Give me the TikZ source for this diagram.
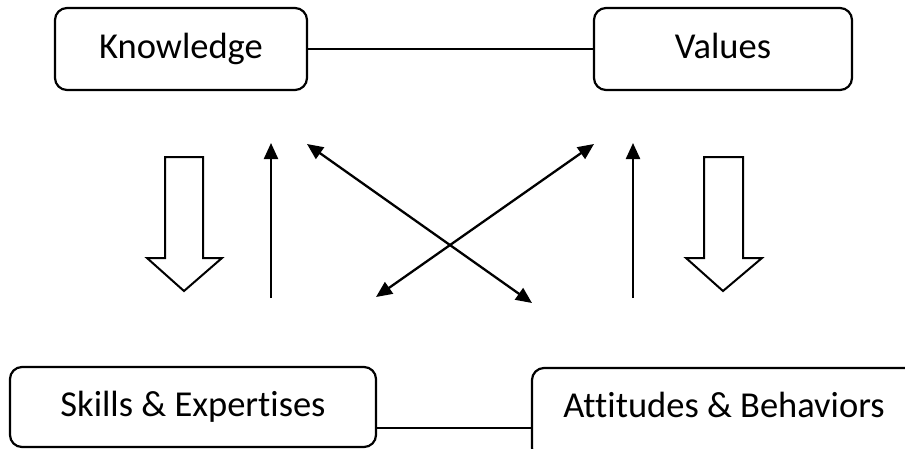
\documentclass[tikz,border=0pt]{standalone}
\usepackage{fontspec}
\setmainfont{Carlito}[Ligatures=NoCommon]
\usetikzlibrary{arrows.meta}
\begin{document}
\begin{tikzpicture}[x=1pt,y=-1pt,
  boxnode/.style={draw,line width=2.2pt,rounded corners=12pt,inner sep=0pt,text height=26pt,text depth=8pt,font=\fontsize{36.5}{40}\selectfont},
  link/.style={line width=1.6pt},
  tip/.tip={Triangle[length=16pt,width=14pt]},
  thinarrow/.style={line width=2.3pt,-tip},
  dblarrow/.style={line width=2.3pt,tip-tip},
  blockarrow/.style={draw,line width=2pt,fill=white,line join=miter}]
\useasboundingbox (0,0) rectangle (905,448);
\node[boxnode,minimum width=252pt,minimum height=82pt] (know) at (181,49) {Knowledge};
\node[boxnode,minimum width=258pt,minimum height=82pt] (val) at (723,49) {Values};
\node[boxnode,minimum width=366pt,minimum height=80pt] (skill) at (193,407) {Skills \& Expertises};
\begin{scope}
\clip (0,0) rectangle (905,448);
\draw[line width=2.2pt,rounded corners=12pt] (915,368) -- (532,368) -- (532,460) -- (915,460);
\end{scope}
\node[font=\fontsize{36.5}{40}\selectfont,inner sep=0pt,anchor=base] (att) at (724,417) {Attitudes \& Behaviors};
\coordinate (attw) at (532,428);
\draw[link] (know.east) -- (val.west);
\draw[link] (skill.east |- attw) -- (attw);
% block arrows
\draw[blockarrow] (165,157) -- (203,157) -- (203,258) -- (222,258) -- (184,291) -- (147,258) -- (165,258) -- cycle;
\draw[blockarrow] (704,157) -- (743,157) -- (743,258) -- (762,258) -- (723,291) -- (686,258) -- (704,258) -- cycle;
% up arrows
\coordinate (ua1) at (271,298); \coordinate (ub1) at (271,143);
\coordinate (ua2) at (633,298); \coordinate (ub2) at (633,143);
\draw[thinarrow] (ua1) -- (ub1);
\draw[thinarrow] (ua2) -- (ub2);
% diagonal arrows
\coordinate (d1a) at (307,144); \coordinate (d1b) at (532,303);
\coordinate (d2a) at (594,144); \coordinate (d2b) at (376,297);
\draw[dblarrow] (d1a) -- (d1b);
\draw[dblarrow] (d2a) -- (d2b);
\end{tikzpicture}
\end{document}
